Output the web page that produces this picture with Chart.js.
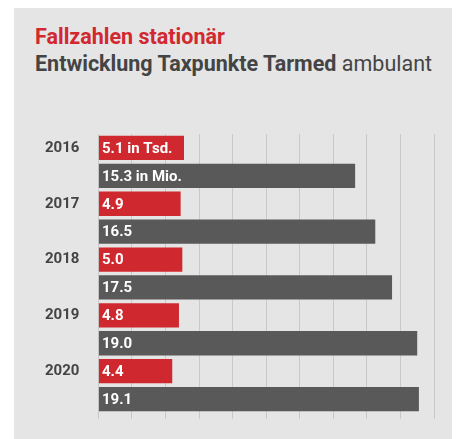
<!DOCTYPE html>
<html>
<head>
<meta charset="utf-8">
<script src="https://cdn.jsdelivr.net/npm/chart.js@4.4.0/dist/chart.umd.min.js"></script>
<style>
  body { margin: 0; background: #fff; font-family: Roboto, "Noto Sans", sans-serif; }
  .panel { position: absolute; left: 14px; top: 8px; width: 438px; height: 431px; background: #e5e5e5; }
  .t1, .t2 { position: absolute; left: 21px; margin: 0; line-height: 24px; white-space: nowrap; }
  .t1 { top: 17px; font-size: 21.5px; color: #d2282f; font-weight: bold; }
  .t2 { top: 44px; font-size: 21.5px; color: #444; font-weight: normal; }
  .t2 b { font-weight: bold; }
  .chart-box { position: absolute; left: 0; top: 106px; width: 438px; height: 319px; }
</style>
</head>
<body>
<div class="panel">
  <div class="t1">Fallzahlen stationär</div>
  <div class="t2"><b>Entwicklung Taxpunkte Tarmed</b> ambulant</div>
  <div class="chart-box"><canvas id="barChart"></canvas></div>
</div>
<script>
// data
var years = ['2016', '2017', '2018', '2019', '2020'];
var fallzahlen = [5.1, 4.9, 5.0, 4.8, 4.4];     // in Tsd.
var taxpunkte = [15.3, 16.5, 17.5, 19.0, 19.1]; // in Mio.
var units = [' in Tsd.', ' in Mio.'];

var RED = '#d0282f';
var GREY = '#595959';

// one row per bar: red then grey for every year
var rowLabels = [];
var redRows = [];
var greyRows = [];
years.forEach(function(y, i) {
  rowLabels.push(y, '');
  redRows.push(fallzahlen[i], null);
  greyRows.push(null, taxpunkte[i]);
});

// white value text inside the bars
var valueLabels = {
  id: 'valueLabels',
  afterDatasetsDraw: function(chart) {
    var ctx = chart.ctx;
    ctx.save();
    ctx.font = 'bold 15px Roboto';
    ctx.fillStyle = '#ffffff';
    ctx.textAlign = 'left';
    ctx.textBaseline = 'middle';
    chart.data.datasets.forEach(function(ds, di) {
      chart.getDatasetMeta(di).data.forEach(function(bar, i) {
        var v = ds.data[i];
        if (v == null) return;
        var txt = v.toFixed(1);
        if (i < 2) txt += units[di];
        ctx.fillText(txt, bar.base + 3, bar.y + 1);
      });
    });
    ctx.restore();
  }
};

var ctx = document.getElementById('barChart').getContext('2d');
var myBarChart = new Chart(ctx, {
  type: 'bar',
  data: {
    labels: rowLabels,
    datasets: [{
      label: 'Fallzahlen stationär',
      data: redRows,
      backgroundColor: RED
    }, {
      label: 'Taxpunkte Tarmed ambulant',
      data: greyRows,
      backgroundColor: GREY
    }]
  },
  options: {
    indexAxis: 'y',
    responsive: true,
    maintainAspectRatio: false,
    animation: false,
    grouped: false,
    barPercentage: 0.87,
    categoryPercentage: 1,
    layout: { padding: { left: 20, right: 18, top: 0, bottom: 0 } },
    plugins: {
      legend: { display: false },
      tooltip: { enabled: false }
    },
    scales: {
      x: {
        min: 0,
        max: 20,
        ticks: { display: false, stepSize: 2 },
        grid: { color: '#c9c9c9', lineWidth: 1, drawTicks: true, tickLength: 6 },
        border: { display: false }
      },
      y: {
        ticks: {
          autoSkip: false,
          padding: 11,
          color: '#444',
          font: { family: 'Roboto', size: 15, weight: 'bold' }
        },
        grid: { display: false },
        border: { display: false }
      }
    }
  },
  plugins: [valueLabels]
});
</script>
</body>
</html>
